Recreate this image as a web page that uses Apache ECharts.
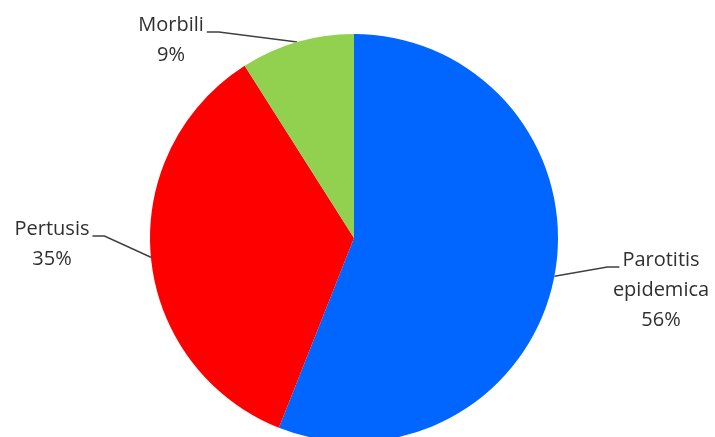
<!DOCTYPE html>
<html>
<head>
<meta charset="utf-8">
<script src="https://cdn.jsdelivr.net/npm/echarts@6/dist/echarts.min.js"></script>
<style>
  html, body { margin: 0; padding: 0; background: #fff; }
  #chart { width: 715px; height: 437px; }
</style>
</head>
<body>
<div id="chart"></div>
<script>
const categories = ['Parotitis\nepidemica', 'Pertusis', 'Morbili'];
const values = [56, 35, 9];
const colors = ['#0066FF', '#FF0000', '#92D050'];

// label anchor (text centre x, top y) and which side the leader line joins
const labelSpots = [
  { x: 661, y: 245, side: 'left' },
  { x: 52, y: 214, side: 'right' },
  { x: 171, y: 10, side: 'right' }
];

const FONT_SIZE = 20;
const LINE_H = 30;
const FONT = FONT_SIZE + 'px "Open Sans"';

// width of the first line of a label
const measure = document.createElement('canvas').getContext('2d');
function firstLineWidth(name) {
  measure.font = FONT;
  return measure.measureText(name.split('\n')[0]).width;
}

const chart = echarts.init(document.getElementById('chart'));

chart.setOption({
  animation: false,
  backgroundColor: '#fff',
  series: [
    {
      type: 'pie',
      center: [354, 238],
      radius: 204,
      startAngle: 90,
      clockwise: true,
      data: categories.map((name, i) => ({
        name: name,
        value: values[i],
        itemStyle: { color: colors[i] }
      })),
      itemStyle: { borderWidth: 0 },
      label: {
        show: true,
        position: 'outside',
        formatter: '{b}\n{d}%',
        color: '#303030',
        fontFamily: 'Open Sans',
        fontSize: FONT_SIZE,
        lineHeight: LINE_H,
        align: 'center'
      },
      labelLine: {
        show: true,
        length: 15,
        length2: 10,
        lineStyle: { color: '#404040', width: 1.5 }
      },
      labelLayout: function (params) {
        const s = labelSpots[params.dataIndex];
        const half = firstLineWidth(categories[params.dataIndex]) / 2;
        const dir = s.side === 'right' ? 1 : -1;
        const ax = s.x + dir * (half + 3);
        const ay = s.y + LINE_H / 2 + 7;
        const edge = params.labelLinePoints[0];
        return {
          x: s.x,
          y: s.y,
          align: 'center',
          verticalAlign: 'top',
          labelLinePoints: [edge, [ax + dir * 12, ay], [ax, ay]]
        };
      }
    }
  ]
});
</script>
</body>
</html>
